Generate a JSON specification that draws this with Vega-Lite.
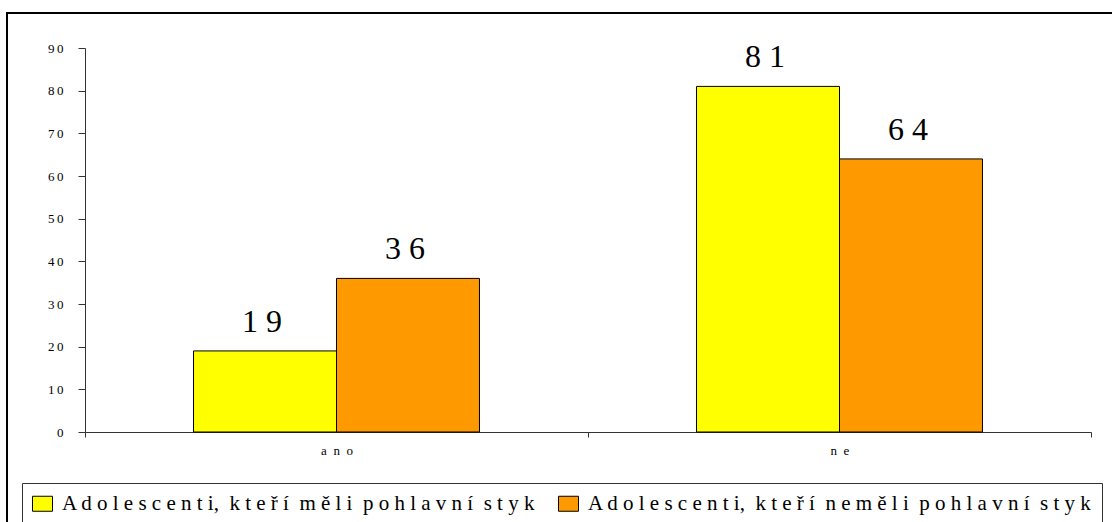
{
  "$schema": "https://vega.github.io/schema/vega-lite/v6.json",
  "autosize": {"type": "none"},
  "padding": {"left": 7, "top": 13, "right": 0, "bottom": 0},
  "width": 1120,
  "height": 530,
  "background": "#ffffff",
  "config": {
    "view": {"stroke": "#000000", "strokeWidth": 2},
    "font": "Liberation Serif, Times New Roman, serif"
  },
  "data": {
    "values": [
      {"odpoved": "ano", "skupina": "Adolescenti, kteří měli pohlavní styk", "procenta": 19},
      {"odpoved": "ano", "skupina": "Adolescenti, kteří neměli pohlavní styk", "procenta": 36},
      {"odpoved": "ne", "skupina": "Adolescenti, kteří měli pohlavní styk", "procenta": 81},
      {"odpoved": "ne", "skupina": "Adolescenti, kteří neměli pohlavní styk", "procenta": 64}
    ]
  },
  "encoding": {
    "x": {
      "field": "odpoved",
      "type": "nominal",
      "sort": ["ano", "ne"],
      "scale": {"range": [78, 1084], "paddingInner": 0, "paddingOuter": 0},
      "axis": {
        "title": null,
        "offset": -111,
        "tickBand": "extent",
        "tickSize": 5,
        "labelAngle": 0,
        "labelPadding": 7,
        "labelFont": "Liberation Serif, Times New Roman, serif",
        "labelFontSize": 13,
        "labelColor": "#000000",
        "domainColor": "#333333",
        "tickColor": "#333333",
        "labelExpr": "join(split(datum.label, ''), '\u2002')"
      }
    },
    "xOffset": {
      "field": "skupina",
      "type": "nominal",
      "scale": {"paddingInner": 0, "paddingOuter": 0.759}
    },
    "y": {
      "field": "procenta",
      "type": "quantitative",
      "scale": {"domain": [0, 90], "range": [419, 35], "nice": false},
      "axis": {
        "title": null,
        "offset": -78,
        "values": [0, 10, 20, 30, 40, 50, 60, 70, 80, 90],
        "grid": false,
        "tickSize": 7,
        "labelPadding": 15,
        "labelFont": "Liberation Serif, Times New Roman, serif",
        "labelFontSize": 13,
        "labelColor": "#000000",
        "domainColor": "#333333",
        "tickColor": "#333333",
        "labelExpr": "join(split(datum.label, ''), '\u2009')"
      }
    }
  },
  "layer": [
    {
      "mark": {"type": "bar", "stroke": "#000000", "strokeWidth": 1},
      "encoding": {
        "color": {
          "field": "skupina",
          "type": "nominal",
          "scale": {
            "domain": ["Adolescenti, kteří měli pohlavní styk", "Adolescenti, kteří neměli pohlavní styk"],
            "range": ["#FFFF00", "#FF9900"]
          },
          "legend": {
            "orient": "none",
            "legendX": 15,
            "legendY": 470,
            "direction": "horizontal",
            "columns": 2,
            "title": null,
            "strokeColor": "#333333",
            "padding": 10,
            "columnPadding": 20,
            "symbolType": "M-1,-0.75H1V0.75H-1Z",
            "symbolSize": 400,
            "symbolStrokeColor": "#000000",
            "symbolStrokeWidth": 1,
            "symbolOpacity": 1,
            "labelFont": "Liberation Serif, Times New Roman, serif",
            "labelFontSize": 21,
            "labelColor": "#000000",
            "labelLimit": 0,
            "labelOffset": 9,
            "labelExpr": "replace(replace(datum.label, regexp(' ', 'g'), '\u00a0\u00a0'), regexp('([^\\\\s,])(?=[^\\\\s,])', 'g'), '$1 ')"
          }
        }
      }
    },
    {
      "transform": [
        {"calculate": "join(split(toString(datum.procenta), ''), ' ')", "as": "popisek"}
      ],
      "mark": {"type": "text", "fontSize": 32, "dx": -3, "dy": -19, "baseline": "alphabetic", "color": "#000000", "font": "Liberation Serif, Times New Roman, serif"},
      "encoding": {
        "text": {"field": "popisek", "type": "nominal"}
      }
    }
  ]
}
